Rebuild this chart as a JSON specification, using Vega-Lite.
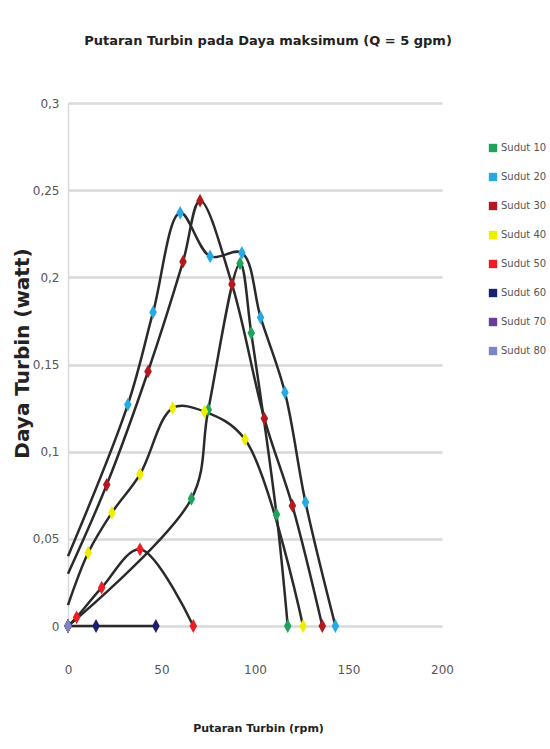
{
  "$schema": "https://vega.github.io/schema/vega-lite/v6.json",
  "width": 374,
  "height": 523,
  "autosize": {"type": "none"},
  "padding": {"left": 68, "top": 103, "right": 108, "bottom": 123},
  "background": "white",
  "title": {
    "text": "Putaran Turbin pada Daya maksimum (Q = 5 gpm)",
    "font": "DejaVu Sans",
    "fontSize": 13,
    "fontWeight": "bold",
    "color": "#222222",
    "anchor": "middle",
    "dx": 13,
    "offset": 49
  },
  "config": {
    "view": {"stroke": null},
    "font": "DejaVu Sans"
  },
  "data": {
    "values": [
      {"s": "Sudut 10", "i": 0, "x": 0, "y": 0},
      {"s": "Sudut 10", "i": 1, "x": 66, "y": 0.073},
      {"s": "Sudut 10", "i": 2, "x": 75, "y": 0.124},
      {"s": "Sudut 10", "i": 3, "x": 92, "y": 0.208},
      {"s": "Sudut 10", "i": 4, "x": 98, "y": 0.168},
      {"s": "Sudut 10", "i": 5, "x": 111.5, "y": 0.064},
      {"s": "Sudut 10", "i": 6, "x": 117.5, "y": 0},
      {"s": "Sudut 20", "i": 0, "x": 0, "y": 0.04},
      {"s": "Sudut 20", "i": 1, "x": 32, "y": 0.127},
      {"s": "Sudut 20", "i": 2, "x": 45.5, "y": 0.18},
      {"s": "Sudut 20", "i": 3, "x": 60, "y": 0.237},
      {"s": "Sudut 20", "i": 4, "x": 76, "y": 0.212},
      {"s": "Sudut 20", "i": 5, "x": 93, "y": 0.214},
      {"s": "Sudut 20", "i": 6, "x": 103, "y": 0.177},
      {"s": "Sudut 20", "i": 7, "x": 116, "y": 0.134},
      {"s": "Sudut 20", "i": 8, "x": 127, "y": 0.071},
      {"s": "Sudut 20", "i": 9, "x": 143, "y": 0},
      {"s": "Sudut 30", "i": 0, "x": 0, "y": 0.03},
      {"s": "Sudut 30", "i": 1, "x": 20.7, "y": 0.081},
      {"s": "Sudut 30", "i": 2, "x": 42.8, "y": 0.146},
      {"s": "Sudut 30", "i": 3, "x": 61.5, "y": 0.209},
      {"s": "Sudut 30", "i": 4, "x": 70.6, "y": 0.244},
      {"s": "Sudut 30", "i": 5, "x": 87.7, "y": 0.196},
      {"s": "Sudut 30", "i": 6, "x": 105, "y": 0.119},
      {"s": "Sudut 30", "i": 7, "x": 120, "y": 0.069},
      {"s": "Sudut 30", "i": 8, "x": 136, "y": 0},
      {"s": "Sudut 40", "i": 0, "x": 0, "y": 0.012},
      {"s": "Sudut 40", "i": 1, "x": 10.8, "y": 0.042},
      {"s": "Sudut 40", "i": 2, "x": 23.5, "y": 0.065},
      {"s": "Sudut 40", "i": 3, "x": 38.5, "y": 0.087},
      {"s": "Sudut 40", "i": 4, "x": 56, "y": 0.125},
      {"s": "Sudut 40", "i": 5, "x": 73, "y": 0.123},
      {"s": "Sudut 40", "i": 6, "x": 94.7, "y": 0.107},
      {"s": "Sudut 40", "i": 7, "x": 125.7, "y": 0},
      {"s": "Sudut 50", "i": 0, "x": 0, "y": 0},
      {"s": "Sudut 50", "i": 1, "x": 4.6, "y": 0.005},
      {"s": "Sudut 50", "i": 2, "x": 18, "y": 0.022},
      {"s": "Sudut 50", "i": 3, "x": 38.5, "y": 0.044},
      {"s": "Sudut 50", "i": 4, "x": 67, "y": 0},
      {"s": "Sudut 60", "i": 0, "x": 0, "y": 0},
      {"s": "Sudut 60", "i": 1, "x": 15, "y": 0},
      {"s": "Sudut 60", "i": 2, "x": 47, "y": 0},
      {"s": "Sudut 70", "i": 0, "x": 0, "y": 0},
      {"s": "Sudut 80", "i": 0, "x": 0, "y": 0}
    ]
  },
  "encoding": {
    "x": {
      "field": "x",
      "type": "quantitative",
      "scale": {"domain": [0, 200], "nice": false},
      "axis": {
        "title": "Putaran Turbin (rpm)",
        "titleFontSize": 11,
        "titleFontWeight": "bold",
        "titleColor": "#222222",
        "titleX": 190,
        "titleY": 102,
        "titleBaseline": "middle",
        "values": [0, 50, 100, 150, 200],
        "grid": false,
        "domain": false,
        "ticks": false,
        "labelFlush": false,
        "labelPadding": 38,
        "labelFontSize": 12,
        "labelColor": "#555555"
      }
    },
    "y": {
      "field": "y",
      "type": "quantitative",
      "scale": {"domain": [0, 0.3], "nice": false},
      "axis": {
        "title": "Daya Turbin (watt)",
        "titleFont": "DejaVu Sans",
        "titleFontSize": 20,
        "titleFontWeight": "bold",
        "titleColor": "#222222",
        "titleX": -46,
        "titleY": 250,
        "titleBaseline": "middle",
        "titleAngle": -90,
        "values": [0, 0.05, 0.1, 0.15, 0.2, 0.25, 0.3],
        "labelExpr": "replace(format(datum.value, '~g'), '.', ',')",
        "labelFlush": false,
        "grid": true,
        "gridColor": "#d9d9d9",
        "gridWidth": 2.5,
        "domain": true,
        "domainColor": "#d9d9d9",
        "domainWidth": 1.5,
        "ticks": false,
        "labelPadding": 9,
        "labelFontSize": 12,
        "labelColor": "#555555"
      }
    }
  },
  "layer": [
    {
      "mark": {"type": "line", "interpolate": "catmull-rom", "color": "#2a2a2a", "strokeWidth": 2.5},
      "encoding": {
        "detail": {"field": "s"},
        "order": {"field": "i", "type": "quantitative"}
      }
    },
    {
      "transform": [{"filter": "datum.x > 0 || datum.y == 0"}],
      "mark": {"type": "point", "filled": true, "opacity": 1, "size": 190, "shape": "M0,-1L0.55,0L0,1L-0.55,0Z", "clip": false},
      "encoding": {
        "color": {
          "field": "s",
          "type": "nominal",
          "scale": {
            "domain": ["Sudut 10", "Sudut 20", "Sudut 30", "Sudut 40", "Sudut 50", "Sudut 60", "Sudut 70", "Sudut 80"],
            "range": ["#1fa35a", "#27aae1", "#b3191f", "#eeee00", "#ee1d24", "#1b1f6e", "#6a3d9a", "#7b87c4"]
          },
          "legend": {
            "title": null,
            "orient": "none",
            "legendX": 420,
            "legendY": 40,
            "symbolType": "square",
            "symbolSize": 70,
            "labelFontSize": 10,
            "labelColor": "#555555",
            "labelOffset": 3,
            "rowPadding": 19
          }
        }
      }
    }
  ]
}
